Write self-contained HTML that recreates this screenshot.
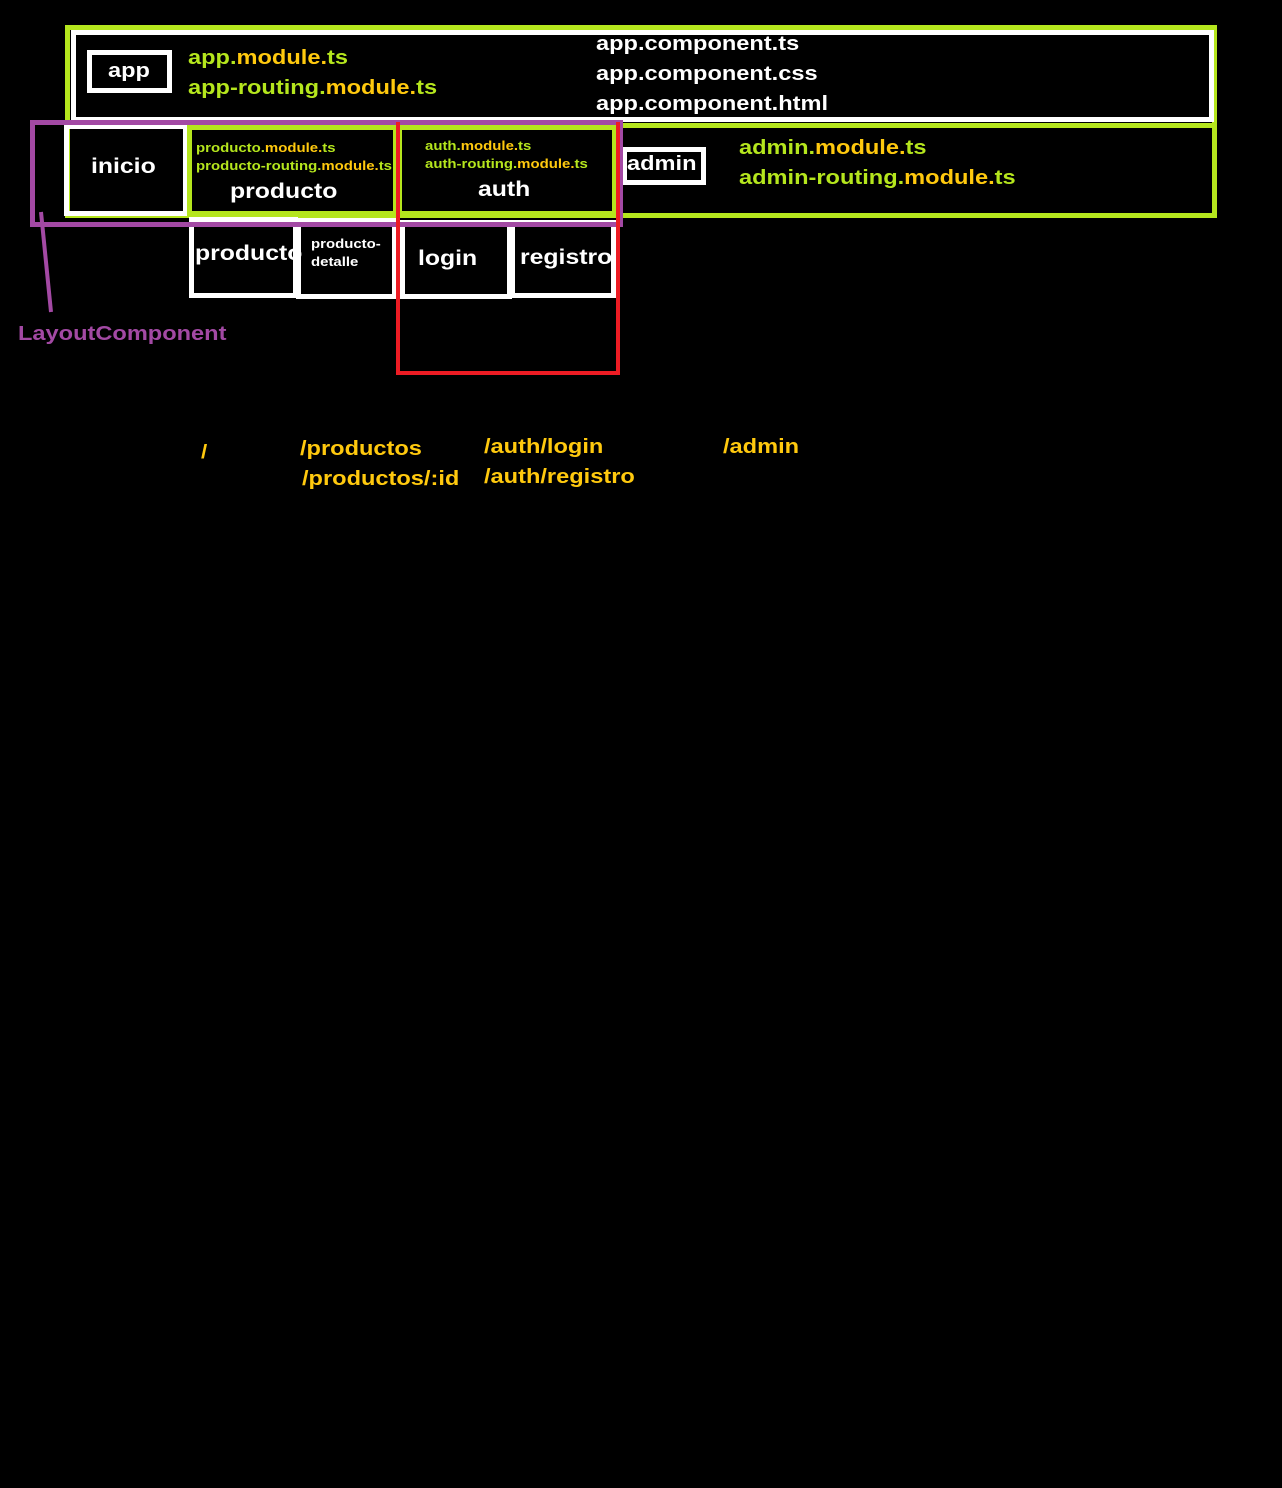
<!DOCTYPE html>
<html><head><meta charset="utf-8"><style>
html,body{margin:0;padding:0;background:#000;width:1282px;height:1488px;overflow:hidden}
body{position:relative;font-family:"Liberation Sans",sans-serif;font-weight:bold}
.b{position:absolute;box-sizing:border-box}
.t{position:absolute;white-space:nowrap;line-height:1;transform:scaleX(1.18);transform-origin:0 0}
.s{transform:scaleX(1.15)}
.g{color:#b5e61d}.y{color:#ffc90e}.w{color:#fff}.p{color:#a349a4}
</style></head><body>
<div class="b" style="left:65px;top:25px;width:1152px;height:193px;border:5px solid #b5e61d"></div>
<div class="b" style="left:71px;top:30px;width:1143px;height:92px;border:5px solid #fff"></div>
<div class="b" style="left:65px;top:123px;width:1152px;height:95px;border:5px solid #b5e61d"></div>
<div class="b" style="left:87px;top:50px;width:85px;height:43px;border:5px solid #fff"></div>
<div class="t w" style="left:108px;top:61px;font-size:20px">app</div>
<div class="t" style="left:188px;top:48px;font-size:20px"><span class="g">app.</span><span class="y">module.</span><span class="g">ts</span></div>
<div class="t" style="left:188px;top:78px;font-size:20px"><span class="g">app-routing.</span><span class="y">module.</span><span class="g">ts</span></div>
<div class="t w" style="left:596px;top:34px;font-size:20px">app.component.ts</div>
<div class="t w" style="left:596px;top:64px;font-size:20px">app.component.css</div>
<div class="t w" style="left:596px;top:94px;font-size:20px">app.component.html</div>

<div class="b" style="left:64px;top:124px;width:124px;height:92px;border:5px solid #fff"></div>
<div class="t w" style="left:91px;top:156px;font-size:21px">inicio</div>
<div class="b" style="left:187px;top:125px;width:211px;height:91px;border:5px solid #b5e61d"></div>
<div class="t s" style="left:196px;top:141px;font-size:13px"><span class="g">producto.</span><span class="y">module.</span><span class="g">ts</span></div>
<div class="t s" style="left:196px;top:159px;font-size:13px"><span class="g">producto-routing.</span><span class="y">module.</span><span class="g">ts</span></div>
<div class="t w" style="left:230px;top:181px;font-size:21px">producto</div>
<div class="b" style="left:397px;top:125px;width:220px;height:91px;border:5px solid #b5e61d"></div>
<div class="t s" style="left:425px;top:139px;font-size:13px"><span class="g">auth.</span><span class="y">module.</span><span class="g">ts</span></div>
<div class="t s" style="left:425px;top:157px;font-size:13px"><span class="g">auth-routing.</span><span class="y">module.</span><span class="g">ts</span></div>
<div class="t w" style="left:478px;top:179px;font-size:21px">auth</div>
<div class="b" style="left:622px;top:147px;width:84px;height:38px;border:5px solid #fff"></div>
<div class="t w" style="left:627px;top:154px;font-size:20px">admin</div>
<div class="t" style="left:739px;top:138px;font-size:20px"><span class="g">admin.</span><span class="y">module.</span><span class="g">ts</span></div>
<div class="t" style="left:739px;top:168px;font-size:20px"><span class="g">admin-routing.</span><span class="y">module.</span><span class="g">ts</span></div>

<div class="b" style="left:189px;top:217px;width:109px;height:81px;border:5px solid #fff"></div>
<div class="t w" style="left:195px;top:243px;font-size:21px">producto</div>
<div class="b" style="left:296px;top:218px;width:101px;height:81px;border:5px solid #fff"></div>
<div class="t w s" style="left:311px;top:235px;font-size:13px;line-height:18px">producto-<br>detalle</div>
<div class="b" style="left:400px;top:220px;width:112px;height:79px;border:5px solid #fff"></div>
<div class="t w" style="left:418px;top:248px;font-size:21px">login</div>
<div class="b" style="left:510px;top:220px;width:106px;height:78px;border:5px solid #fff"></div>
<div class="t w" style="left:520px;top:247px;font-size:21px">registro</div>

<div class="b" style="left:30px;top:120px;width:593px;height:107px;border:5px solid #a349a4"></div>
<div class="b" style="left:396px;top:122px;width:224px;height:253px;border:4px solid #ed1c24;border-top:none"></div>
<svg class="b" style="left:0;top:0" width="1282" height="400"><line x1="41" y1="212" x2="51" y2="312" stroke="#a349a4" stroke-width="4"/></svg>
<div class="t p" style="left:18px;top:324px;font-size:20px">LayoutComponent</div>

<div class="t y" style="left:201px;top:443px;font-size:19px">/</div>
<div class="t y" style="left:300px;top:439px;font-size:20px">/productos</div>
<div class="t y" style="left:302px;top:469px;font-size:20px">/productos/:id</div>
<div class="t y" style="left:484px;top:437px;font-size:20px">/auth/login</div>
<div class="t y" style="left:484px;top:467px;font-size:20px">/auth/registro</div>
<div class="t y" style="left:723px;top:437px;font-size:20px">/admin</div>
</body></html>
